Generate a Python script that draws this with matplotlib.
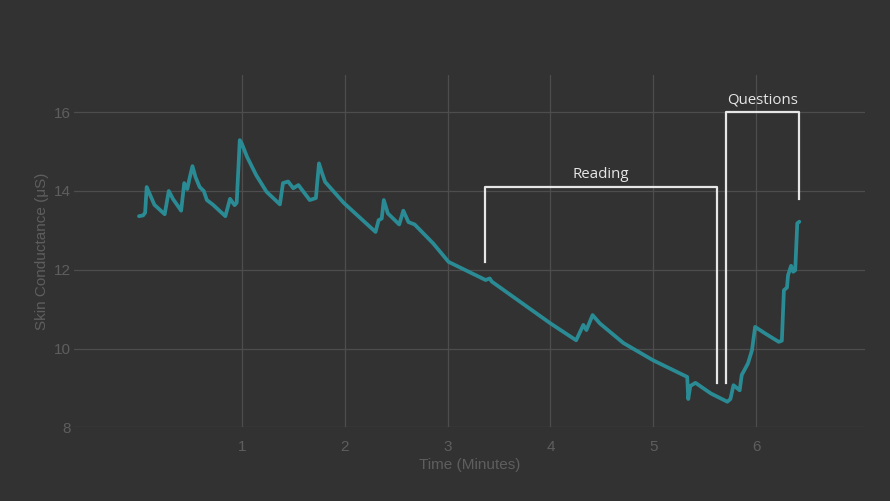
import matplotlib
matplotlib.use("Agg")
import matplotlib.pyplot as plt

# Skin conductance trace (time in minutes, value in microsiemens)
time_min = [0.00, 0.04, 0.06, 0.075, 0.10, 0.15, 0.25, 0.29, 0.33, 0.41, 0.44, 0.47, 0.49, 0.52,
            0.55, 0.59, 0.63, 0.66, 0.72, 0.84, 0.885, 0.93, 0.95, 0.98, 1.00, 1.05, 1.14, 1.24,
            1.37, 1.40, 1.45, 1.50, 1.55, 1.66, 1.72, 1.75, 1.78, 1.81, 1.99, 2.30, 2.33, 2.36,
            2.38, 2.42, 2.53, 2.57, 2.62, 2.68, 2.86, 3.01, 3.37, 3.41, 3.43, 4.00, 4.25, 4.32,
            4.35, 4.41, 4.48, 4.71, 5.00, 5.33, 5.34, 5.36, 5.41, 5.56, 5.72, 5.75, 5.78, 5.84,
            5.86, 5.92, 5.96, 5.99, 6.09, 6.22, 6.25, 6.27, 6.30, 6.31, 6.34, 6.36, 6.38, 6.40,
            6.42]
conductance = [13.36, 13.38, 13.45, 14.10, 13.95, 13.65, 13.41, 14.00, 13.80, 13.50, 14.20, 14.05,
               14.30, 14.63, 14.35, 14.10, 14.00, 13.77, 13.65, 13.36, 13.80, 13.64, 13.70, 15.29,
               15.20, 14.87, 14.40, 13.98, 13.66, 14.20, 14.24, 14.07, 14.15, 13.77, 13.82, 14.70,
               14.45, 14.23, 13.70, 12.96, 13.26, 13.30, 13.77, 13.43, 13.15, 13.50, 13.21, 13.15,
               12.67, 12.20, 11.74, 11.78, 11.70, 10.64, 10.21, 10.60, 10.47, 10.85, 10.64, 10.14,
               9.70, 9.28, 8.72, 9.05, 9.13, 8.86, 8.65, 8.72, 9.07, 8.94, 9.33, 9.62, 9.96,
               10.55, 10.38, 10.17, 10.20, 11.48, 11.55, 11.86, 12.10, 11.95, 11.99, 13.18, 13.22]

x_ticks = [1, 2, 3, 4, 5, 6]
y_ticks = [8, 10, 12, 14, 16]

# Annotation brackets
bracket_labels = ["Reading", "Questions"]
bracket_left_x = [3.366, 5.71]
bracket_right_x = [5.62, 6.42]
bracket_left_low = [12.2, 9.13]
bracket_right_low = [9.13, 13.8]
bracket_top = [14.1, 16.0]

bg = "#323232"
fig = plt.figure(figsize=(8.9, 5.01), dpi=100, facecolor=bg)
ax = fig.add_axes([0.0831, 0.147, 0.889, 0.703], facecolor=bg)

ax.plot(time_min, conductance, color="#2a8b95", lw=2.7, solid_joinstyle="round",
        solid_capstyle="round", zorder=3)

for lab, lx, rx, ll, rl, top in zip(bracket_labels, bracket_left_x, bracket_right_x,
                                     bracket_left_low, bracket_right_low, bracket_top):
    ax.plot([lx, lx, rx, rx], [ll, top, top, rl], color="#e6e6e6", lw=1.6, zorder=4)
    ax.text((lx + rx) / 2, top + 0.12, lab, color="#e6e6e6", fontsize=10.8,
            family="Open Sans", ha="center", va="bottom", zorder=5)

ax.set_xlim(-0.632, 7.06)
ax.set_ylim(8.0, 16.94)
ax.set_xticks(x_ticks)
ax.set_yticks(y_ticks)
ax.grid(True, color="#4d4d4d", lw=0.9)
ax.set_axisbelow(True)
for s in ax.spines.values():
    s.set_visible(False)
ax.tick_params(length=0, colors="#5e5e5e", labelsize=11)
ax.tick_params(axis="y", pad=2)
ax.tick_params(axis="x", pad=9)
for lbl in ax.get_xticklabels() + ax.get_yticklabels():
    lbl.set_family("Liberation Sans")
ax.set_xlabel("Time (Minutes)", color="#5e5e5e", fontsize=11, family="Liberation Sans", labelpad=3)
ax.set_ylabel("Skin Conductance (\u03bcS)", color="#5e5e5e", fontsize=11,
              family="Liberation Sans", labelpad=4)

fig.savefig("out.png", dpi=100, facecolor=bg)
